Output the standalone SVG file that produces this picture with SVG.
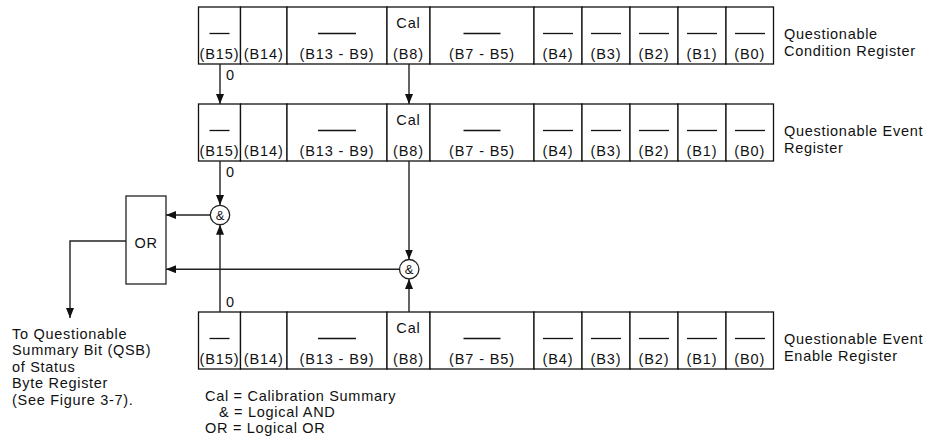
<svg xmlns="http://www.w3.org/2000/svg" width="940" height="441" viewBox="0 0 940 441">
<style>
text{font-family:"Liberation Sans",Arial,sans-serif;font-size:14.5px;letter-spacing:0.7px;fill:#111}
.c{text-anchor:middle}
.r text{letter-spacing:0.9px}
.cell{fill:#fff;stroke:#111;stroke-width:1.3}
.bar{stroke:#111;stroke-width:1.3}
.w{fill:none;stroke:#222;stroke-width:1.4}
.g{fill:#fff;stroke:#222;stroke-width:1.3}
.amp{font-size:13px;letter-spacing:0}
</style>
<defs>
<marker id="ah" markerUnits="userSpaceOnUse" markerWidth="10" markerHeight="8" refX="10" refY="4" orient="auto"><path d="M0,0 L10,4 L0,8 z" fill="#111"/></marker>
</defs>
<rect width="940" height="441" fill="#fff"/>

<g id="condition-register" class="r">
<rect class="cell" x="198.5" y="7" width="42" height="57"/>
<rect class="cell" x="240.5" y="7" width="46.5" height="57"/>
<rect class="cell" x="287" y="7" width="100" height="57"/>
<rect class="cell" x="387" y="7" width="43" height="57"/>
<rect class="cell" x="430" y="7" width="104" height="57"/>
<rect class="cell" x="534" y="7" width="48" height="57"/>
<rect class="cell" x="582" y="7" width="48" height="57"/>
<rect class="cell" x="630" y="7" width="48" height="57"/>
<rect class="cell" x="678" y="7" width="48" height="57"/>
<rect class="cell" x="726" y="7" width="47.5" height="57"/>
<line class="bar" x1="209.5" y1="33.5" x2="229.5" y2="33.5"/>
<line class="bar" x1="318" y1="33.5" x2="356" y2="33.5"/>
<line class="bar" x1="463.5" y1="33.5" x2="500.5" y2="33.5"/>
<line class="bar" x1="543" y1="33.5" x2="573" y2="33.5"/>
<line class="bar" x1="591" y1="33.5" x2="621" y2="33.5"/>
<line class="bar" x1="639" y1="33.5" x2="669" y2="33.5"/>
<line class="bar" x1="687" y1="33.5" x2="717" y2="33.5"/>
<line class="bar" x1="735" y1="33.5" x2="765" y2="33.5"/>
<text class="c" x="408.5" y="28">Cal</text>
<text class="c" x="219.5" y="59">(B15)</text>
<text class="c" x="263.75" y="59">(B14)</text>
<text class="c" x="337" y="59">(B13 - B9)</text>
<text class="c" x="408.5" y="59">(B8)</text>
<text class="c" x="482" y="59">(B7 - B5)</text>
<text class="c" x="558" y="59">(B4)</text>
<text class="c" x="606" y="59">(B3)</text>
<text class="c" x="654" y="59">(B2)</text>
<text class="c" x="702" y="59">(B1)</text>
<text class="c" x="749.75" y="59">(B0)</text>
</g>
<g id="condition-label">
<text x="784" y="39">Questionable</text>
<text x="784" y="56">Condition Register</text>
</g>

<g id="event-register" class="r">
<rect class="cell" x="198.5" y="104" width="42" height="57"/>
<rect class="cell" x="240.5" y="104" width="46.5" height="57"/>
<rect class="cell" x="287" y="104" width="100" height="57"/>
<rect class="cell" x="387" y="104" width="43" height="57"/>
<rect class="cell" x="430" y="104" width="104" height="57"/>
<rect class="cell" x="534" y="104" width="48" height="57"/>
<rect class="cell" x="582" y="104" width="48" height="57"/>
<rect class="cell" x="630" y="104" width="48" height="57"/>
<rect class="cell" x="678" y="104" width="48" height="57"/>
<rect class="cell" x="726" y="104" width="47.5" height="57"/>
<line class="bar" x1="209.5" y1="130.5" x2="229.5" y2="130.5"/>
<line class="bar" x1="318" y1="130.5" x2="356" y2="130.5"/>
<line class="bar" x1="463.5" y1="130.5" x2="500.5" y2="130.5"/>
<line class="bar" x1="543" y1="130.5" x2="573" y2="130.5"/>
<line class="bar" x1="591" y1="130.5" x2="621" y2="130.5"/>
<line class="bar" x1="639" y1="130.5" x2="669" y2="130.5"/>
<line class="bar" x1="687" y1="130.5" x2="717" y2="130.5"/>
<line class="bar" x1="735" y1="130.5" x2="765" y2="130.5"/>
<text class="c" x="408.5" y="125">Cal</text>
<text class="c" x="219.5" y="156">(B15)</text>
<text class="c" x="263.75" y="156">(B14)</text>
<text class="c" x="337" y="156">(B13 - B9)</text>
<text class="c" x="408.5" y="156">(B8)</text>
<text class="c" x="482" y="156">(B7 - B5)</text>
<text class="c" x="558" y="156">(B4)</text>
<text class="c" x="606" y="156">(B3)</text>
<text class="c" x="654" y="156">(B2)</text>
<text class="c" x="702" y="156">(B1)</text>
<text class="c" x="749.75" y="156">(B0)</text>
</g>
<g id="event-label">
<text x="784" y="136">Questionable Event</text>
<text x="784" y="153">Register</text>
</g>

<g id="enable-register" class="r">
<rect class="cell" x="198.5" y="312" width="42" height="57"/>
<rect class="cell" x="240.5" y="312" width="46.5" height="57"/>
<rect class="cell" x="287" y="312" width="100" height="57"/>
<rect class="cell" x="387" y="312" width="43" height="57"/>
<rect class="cell" x="430" y="312" width="104" height="57"/>
<rect class="cell" x="534" y="312" width="48" height="57"/>
<rect class="cell" x="582" y="312" width="48" height="57"/>
<rect class="cell" x="630" y="312" width="48" height="57"/>
<rect class="cell" x="678" y="312" width="48" height="57"/>
<rect class="cell" x="726" y="312" width="47.5" height="57"/>
<line class="bar" x1="209.5" y1="338.5" x2="229.5" y2="338.5"/>
<line class="bar" x1="318" y1="338.5" x2="356" y2="338.5"/>
<line class="bar" x1="463.5" y1="338.5" x2="500.5" y2="338.5"/>
<line class="bar" x1="543" y1="338.5" x2="573" y2="338.5"/>
<line class="bar" x1="591" y1="338.5" x2="621" y2="338.5"/>
<line class="bar" x1="639" y1="338.5" x2="669" y2="338.5"/>
<line class="bar" x1="687" y1="338.5" x2="717" y2="338.5"/>
<line class="bar" x1="735" y1="338.5" x2="765" y2="338.5"/>
<text class="c" x="408.5" y="333">Cal</text>
<text class="c" x="219.5" y="364">(B15)</text>
<text class="c" x="263.75" y="364">(B14)</text>
<text class="c" x="337" y="364">(B13 - B9)</text>
<text class="c" x="408.5" y="364">(B8)</text>
<text class="c" x="482" y="364">(B7 - B5)</text>
<text class="c" x="558" y="364">(B4)</text>
<text class="c" x="606" y="364">(B3)</text>
<text class="c" x="654" y="364">(B2)</text>
<text class="c" x="702" y="364">(B1)</text>
<text class="c" x="749.75" y="364">(B0)</text>
</g>
<g id="enable-label">
<text x="784" y="344">Questionable Event</text>
<text x="784" y="361">Enable Register</text>
</g>

<g id="connectors">
<line class="w" x1="220" y1="64" x2="220" y2="104" marker-end="url(#ah)"/>
<line class="w" x1="409" y1="64" x2="409" y2="104" marker-end="url(#ah)"/>
<line class="w" x1="220" y1="161" x2="220" y2="205" marker-end="url(#ah)"/>
<line class="w" x1="409" y1="161" x2="409" y2="259.5" marker-end="url(#ah)"/>
<line class="w" x1="220" y1="312" x2="220" y2="224.7" marker-end="url(#ah)"/>
<line class="w" x1="409" y1="312" x2="409" y2="279" marker-end="url(#ah)"/>
<line class="w" x1="210.3" y1="215" x2="166" y2="215" marker-end="url(#ah)"/>
<line class="w" x1="399.5" y1="269.2" x2="166" y2="269.2" marker-end="url(#ah)"/>
<polyline class="w" points="126,241 70,241 70,318" marker-end="url(#ah)"/>
<text x="226" y="80">0</text>
<text x="226" y="177">0</text>
<text x="226" y="307">0</text>
</g>

<g id="and-gate-1">
<circle class="g" cx="220" cy="215" r="9.7"/>
<text class="c amp" x="220" y="219.5">&amp;</text>
</g>
<g id="and-gate-2">
<circle class="g" cx="409.2" cy="269.2" r="9.7"/>
<text class="c amp" x="409.2" y="273.7">&amp;</text>
</g>

<g id="or-gate">
<rect class="g" x="126" y="196" width="40" height="88"/>
<text class="c" x="146" y="248">OR</text>
</g>

<g id="qsb-output">
<text x="12" y="338.5">To Questionable</text>
<text x="12" y="355">Summary Bit (QSB)</text>
<text x="12" y="371.5">of Status</text>
<text x="12" y="388">Byte Register</text>
<text x="12" y="404.5">(See Figure 3-7).</text>
</g>

<g id="legend">
<text x="205" y="401">Cal = Calibration Summary</text>
<text x="219" y="417">&amp; = Logical AND</text>
<text x="205" y="433">OR = Logical OR</text>
</g>
</svg>
